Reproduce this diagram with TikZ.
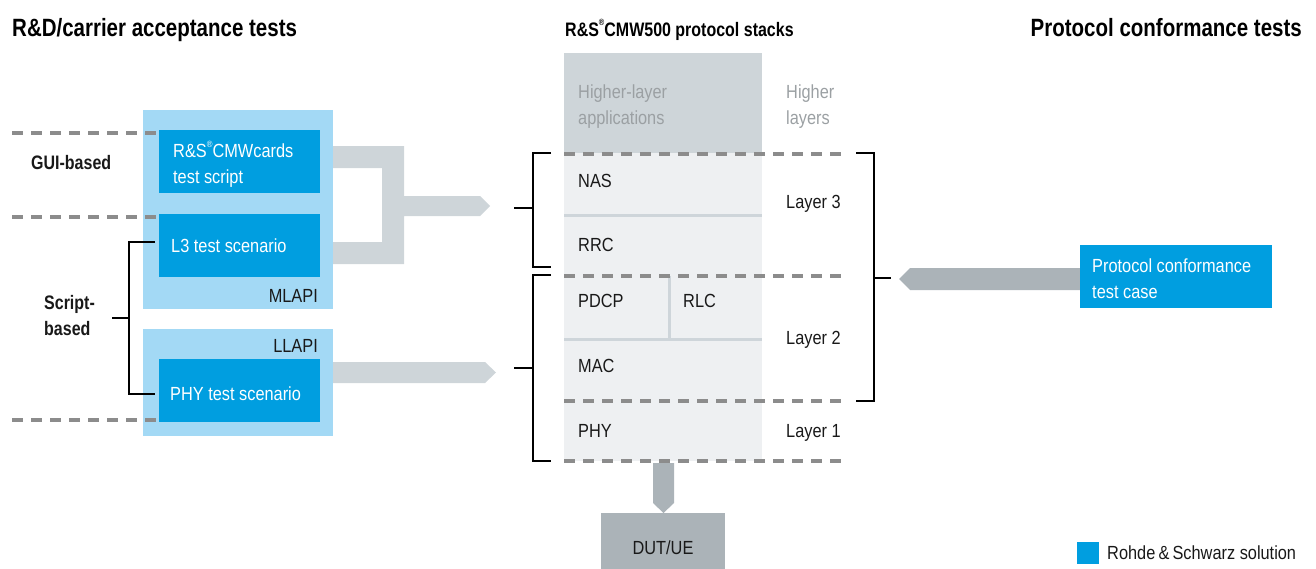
\documentclass[tikz,border=0pt]{standalone}
\usepackage{fontspec}
\setmainfont{Liberation Sans}[FakeStretch=0.86,BoldFeatures={FakeStretch=0.82}]
\definecolor{lblue}{RGB}{163,217,245}
\definecolor{dblue}{RGB}{0,158,224}
\definecolor{lgray}{RGB}{206,213,217}
\definecolor{stackc}{RGB}{238,240,242}
\definecolor{dgray}{RGB}{171,179,184}
\definecolor{dashc}{RGB}{140,140,140}
\definecolor{sepc}{RGB}{206,213,218}
\definecolor{gtext}{RGB}{155,160,163}
\definecolor{btext}{RGB}{25,25,25}
\newcommand{\regmark}[1]{\raisebox{0.55em}{\fontsize{#1}{#1}\selectfont\textregistered}}
\begin{document}
\begin{tikzpicture}[x=1pt,y=-1pt,
  box/.style={anchor=north west,inner sep=0pt,outer sep=0pt,draw=none},
  txt/.style={anchor=base west,inner sep=0pt,yshift=-7pt,font=\fontsize{19}{25.5}\selectfont,align=left,text=btext},
  wtxt/.style={txt,text=white},
  gtxt/.style={txt,text=gtext},
  ttl/.style={anchor=base west,inner sep=0pt,yshift=-9pt,font=\fontsize{25}{30}\selectfont\bfseries},
  dashline/.style={draw=dashc,line width=4pt,dash pattern=on 11pt off 8pt},
  sepline/.style={draw=sepc,line width=3pt},
  brk/.style={draw=black,line width=2.5pt},
  lconn/.style={fill=lgray,draw=none},
  dconn/.style={fill=dgray,draw=none}]
\useasboundingbox (0,0) rectangle (1316,568);

% titles
\node[ttl] (t1) at (12,27) {R\&D/carrier acceptance tests};
\node[ttl,font=\fontsize{19.5}{24}\selectfont\bfseries] (t2) at (565,27) {R\&S\regmark{9}CMW500 protocol stacks};
\node[ttl,anchor=base east] (t3) at (1302,27) {Protocol conformance tests};

% left blue boxes
\node[box,fill=lblue,minimum width=190pt,minimum height=199pt] (mlapi) at (143,110) {};
\node[box,fill=lblue,minimum width=190pt,minimum height=107pt] (llapi) at (143,329) {};
\node[box,fill=dblue,minimum width=161pt,minimum height=63pt] (cards) at (159,130) {};
\node[box,fill=dblue,minimum width=161pt,minimum height=63pt] (l3) at (159,214) {};
\node[box,fill=dblue,minimum width=161pt,minimum height=63pt] (phy) at (159,359) {};

\node[wtxt] (cardst) at (173,176) {R\&S\regmark{9}CMWcards\\test script};
\node[wtxt] (l3t) at (171,245) {L3 test scenario};
\node[wtxt] (phyt) at (170,393) {PHY test scenario};
\node[txt,anchor=base east] (mlapit) at (318,295) {MLAPI};
\node[txt,anchor=base east] (llapit) at (318,345) {LLAPI};

% left dashed lines
\coordinate (d1a) at (12,133); \coordinate (d1b) at (159,133);
\coordinate (d2a) at (12,217); \coordinate (d2b) at (159,217);
\coordinate (d3a) at (12,420); \coordinate (d3b) at (159,420);
\draw[dashline] (d1a) -- (d1b);
\draw[dashline] (d2a) -- (d2b);
\draw[dashline] (d3a) -- (d3b);

\node[txt,font=\fontsize{19.5}{25.5}\selectfont\bfseries] (gui) at (31,162) {GUI-based};
\node[txt,font=\fontsize{19.5}{26}\selectfont\bfseries] (script) at (44,328) {Script-\\based};

% script bracket
\coordinate (sb1) at (155,242); \coordinate (sb2) at (155,394);
\coordinate (sbm) at (112,318);
\draw[brk] (sb1) -- (129,242) -- (129,394) -- (sb2);
\draw[brk] (sbm) -- (129,318);

% gray connectors from left
\path[lconn] (333,146) -- (404,146) -- (404,196) -- (480,196) -- (490,206) -- (480,216)
  -- (404,216) -- (404,264) -- (333,264) -- (333,242) -- (382,242) -- (382,168) -- (333,168) -- cycle;
\path[lconn] (333,362) -- (485,362) -- (496,372.5) -- (485,383) -- (333,383) -- cycle;

% central stack
\node[box,fill=lgray,minimum width=198pt,minimum height=100pt] (hl) at (564,53) {};
\node[box,fill=stackc,minimum width=198pt,minimum height=308pt] (stack) at (564,153) {};
\draw[sepline] (564,215) -- (762,215);
\draw[sepline] (564,339) -- (762,339);
\draw[sepline] (669,276) -- (669,339);

\node[gtxt] (hlt) at (578,117) {Higher-layer\\applications};
\node[gtxt] (hlayers) at (786,117) {Higher\\layers};
\node[txt] (nas) at (578,180) {NAS};
\node[txt] (rrc) at (578,244) {RRC};
\node[txt] (l3lab) at (786,201) {Layer 3};
\node[txt] (pdcp) at (578,300) {PDCP};
\node[txt] (rlc) at (683,300) {RLC};
\node[txt] (l2lab) at (786,337) {Layer 2};
\node[txt] (mac) at (578,365) {MAC};
\node[txt] (phyl) at (578,430) {PHY};
\node[txt] (l1lab) at (786,430) {Layer 1};

\draw[dashline] (564,154) -- (843,154);
\draw[dashline] (564,276) -- (843,276);
\draw[dashline] (564,401) -- (843,401);
\draw[dashline] (564,461) -- (843,461);

% stack brackets
\draw[brk] (551,153) -- (533,153) -- (533,267) -- (551,267);
\draw[brk] (514,208) -- (533,208);
\draw[brk] (551,275) -- (533,275) -- (533,461) -- (551,461);
\draw[brk] (514,368) -- (533,368);
\draw[brk] (856,153) -- (874,153) -- (874,401) -- (856,401);
\draw[brk] (874,278) -- (891,278);

% DUT
\path[dconn] (653,463) -- (674,463) -- (674,503) -- (663.5,513) -- (653,503) -- cycle;
\node[box,fill=dgray,minimum width=124pt,minimum height=56pt] (dut) at (601,513) {};
\node[txt,anchor=base] (dutt) at (663,547) {DUT/UE};

% protocol conformance
\path[dconn] (1080,268) -- (910,268) -- (899,279) -- (910,290) -- (1080,290) -- cycle;
\node[box,fill=dblue,minimum width=192pt,minimum height=63pt] (pct) at (1080,245) {};
\node[wtxt] (pctt) at (1092,291) {Protocol conformance\\test case};

% legend
\node[box,fill=dblue,minimum width=22pt,minimum height=22pt] (leg) at (1077,542) {};
\node[txt] (legt) at (1107,552) {Rohde\,\&\,Schwarz solution};
\end{tikzpicture}
\end{document}
